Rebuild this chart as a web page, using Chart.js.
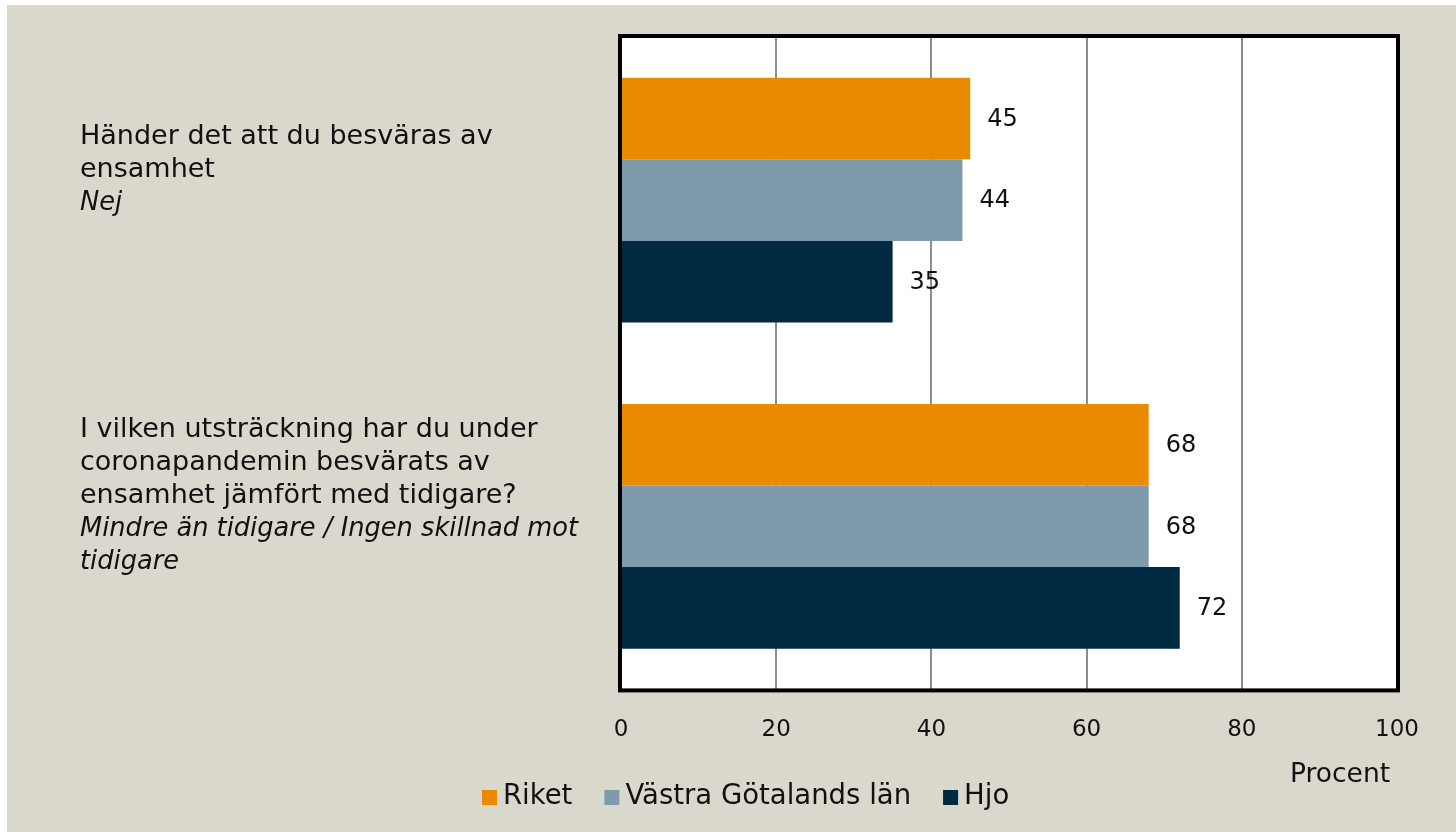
<!DOCTYPE html>
<html>
<head>
<meta charset="utf-8">
<script src="https://cdn.jsdelivr.net/npm/chart.js@4.4.0/dist/chart.umd.min.js"></script>
<style>
  html, body { margin: 0; padding: 0; background: #ffffff; }
  #wrap { width: 1456px; height: 832px; }
</style>
</head>
<body>
<div id="wrap"><canvas id="chart" width="1456" height="832"></canvas></div>
<script>
// data
var categories = ["Händer det att du besväras av ensamhet", "I vilken utsträckning har du under coronapandemin besvärats av ensamhet jämfört med tidigare?"];
var catLines = [
    ["Händer det att du besväras av", "ensamhet"],
    ["I vilken utsträckning har du under", "coronapandemin besvärats av", "ensamhet jämfört med tidigare?"]
];
var catAnswers = [
    ["Nej"],
    ["Mindre än tidigare / Ingen skillnad mot", "tidigare"]
];
var seriesNames = ["Riket", "Västra Götalands län", "Hjo"];
var riket = [45, 68];
var vgl = [44, 68];
var hjo = [35, 72];
var xTicks = [0, 20, 40, 60, 80, 100];
var axisTitle = "Procent";

var colors = ["#EA8A00", "#7F9AAB", "#002A42"];
var FONT = "'DejaVu Sans', sans-serif";
var BG = "#DAD8CC";

var decorPlugin = {
    id: "decor",
    beforeDraw: function(chart) {
        var ctx = chart.ctx, a = chart.chartArea;
        ctx.save();
        ctx.fillStyle = "#ffffff";
        ctx.fillRect(0, 0, chart.width, chart.height);
        ctx.fillStyle = BG;
        ctx.fillRect(7, 5, chart.width - 7, chart.height - 5);
        ctx.fillStyle = "#ffffff";
        ctx.fillRect(a.left, a.top, a.right - a.left, a.bottom - a.top);
        ctx.restore();
    },
    afterDatasetsDraw: function(chart) {
        var ctx = chart.ctx;
        ctx.save();
        ctx.fillStyle = "#111111";
        ctx.font = "24px " + FONT;
        ctx.textAlign = "left";
        ctx.textBaseline = "middle";
        chart.data.datasets.forEach(function(ds, di) {
            chart.getDatasetMeta(di).data.forEach(function(bar, i) {
                ctx.fillText(String(ds.data[i]), bar.x + 17, bar.y + 1);
            });
        });
        ctx.restore();
    },
    afterDraw: function(chart) {
        var ctx = chart.ctx, a = chart.chartArea;
        var yScale = chart.scales.y;
        ctx.save();
        // plot border
        ctx.strokeStyle = "#000000";
        ctx.lineWidth = 4;
        ctx.strokeRect(a.left - 1, a.top - 1, a.right - a.left + 2, a.bottom - a.top + 2);

        // category labels (regular question + italic answer)
        ctx.fillStyle = "#111111";
        ctx.textAlign = "left";
        ctx.textBaseline = "middle";
        var lh = 33;
        catLines.forEach(function(lines, i) {
            var all = lines.length + catAnswers[i].length;
            var cy = yScale.getPixelForValue(i) - 30;
            var y0 = cy - (all - 1) * lh / 2;
            ctx.font = "27px " + FONT;
            lines.forEach(function(t, k) { ctx.fillText(t, 80, y0 + k * lh); });
            ctx.font = "italic 25.7px " + FONT;
            catAnswers[i].forEach(function(t, k) { ctx.fillText(t, 80, y0 + (lines.length + k) * lh); });
        });

        // axis title
        ctx.font = "26.5px " + FONT;
        ctx.fillText(axisTitle, 1290, 775);

        // legend
        ctx.font = "27.5px " + FONT;
        var x = 482, ly = 797;
        seriesNames.forEach(function(name, i) {
            ctx.fillStyle = colors[i];
            ctx.fillRect(x, ly - 7, 15, 15);
            ctx.fillStyle = "#111111";
            ctx.fillText(name, x + 21, ly);
            x += 21 + ctx.measureText(name).width + 32;
        });
        ctx.restore();
    }
};

var ctx1 = document.getElementById("chart");

var chart1 = new Chart(ctx1, {
    type: "bar",
    data: {
        labels: categories,
        datasets: [
            { label: seriesNames[0], data: riket, backgroundColor: colors[0] },
            { label: seriesNames[1], data: vgl, backgroundColor: colors[1] },
            { label: seriesNames[2], data: hjo, backgroundColor: colors[2] }
        ]
    },
    options: {
        indexAxis: "y",
        responsive: false,
        animation: false,
        devicePixelRatio: 1,
        categoryPercentage: 0.75,
        barPercentage: 1,
        layout: { padding: { left: 621, right: 59, top: 37, bottom: 61 } },
        plugins: {
            legend: { display: false },
            tooltip: { enabled: false }
        },
        scales: {
            x: {
                min: 0,
                max: 100,
                afterBuildTicks: function(scale) {
                    scale.ticks = xTicks.map(function(v) { return { value: v }; });
                },
                grid: { color: "#8C8C8C", lineWidth: 2, drawTicks: false },
                border: { display: false },
                ticks: {
                    padding: 27,
                    color: "#111111",
                    font: { family: "DejaVu Sans", size: 23 }
                }
            },
            y: {
                display: false
            }
        }
    },
    plugins: [decorPlugin]
});
</script>
</body>
</html>
